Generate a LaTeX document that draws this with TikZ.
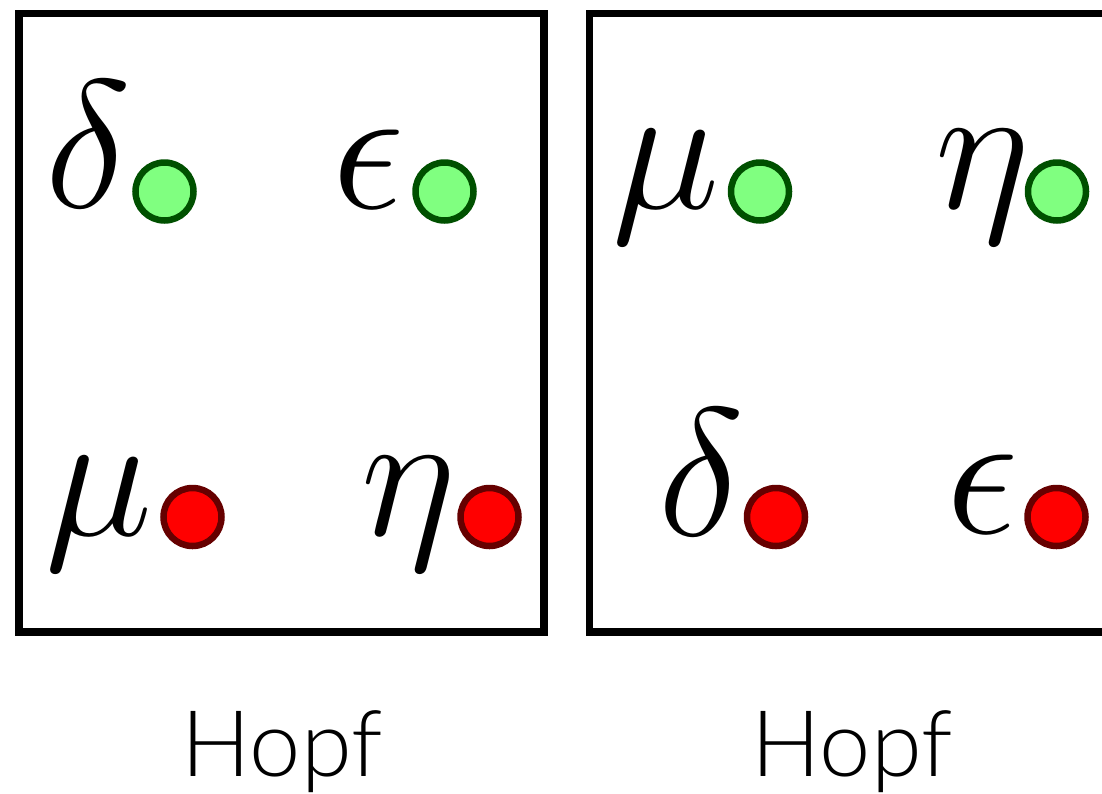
\documentclass[tikz,border=0pt]{standalone}
\usepackage{graphicx}
\usepackage{fontspec}
\newfontfamily\hopffont{Lato Light}
\definecolor{gfill}{RGB}{128,255,128}
\definecolor{gdraw}{RGB}{0,80,0}
\definecolor{rfill}{RGB}{255,0,0}
\definecolor{rdraw}{RGB}{102,0,0}
\newcommand{\bigsym}[1]{\scalebox{7.315}{\Huge$#1$}}
\begin{document}
\begin{tikzpicture}[x=1pt,y=-1pt,
  boxline/.style={draw=black,line width=7.5pt,line join=miter},
  greendot/.style={circle,draw=gdraw,fill=gfill,line width=6.5pt,minimum size=58pt,inner sep=0pt},
  reddot/.style={circle,draw=rdraw,fill=rfill,line width=6.5pt,minimum size=58pt,inner sep=0pt},
  sym/.style={anchor=base west,inner sep=0pt},
  caption/.style={anchor=base,inner sep=0pt,font=\hopffont\fontsize{92}{92}\selectfont}]
\useasboundingbox (0,0) rectangle (1102,793);
\clip (0,0) rectangle (1102,793);
\fill[white] (0,0) rectangle (1102,793);
% boxes
\draw[boxline] (19,13.5) rectangle (544,632);
\draw[boxline] (589.5,13.5) rectangle (1140,632);
% left box
\node[sym] (ld) at (45,207) {\bigsym{\delta}};
\node[greendot] (ldg) at (164.5,191.5) {};
\node[sym] (le) at (332,208) {\bigsym{\epsilon}};
\node[greendot] (leg) at (444.5,191.5) {};
\node[sym] (lm) at (45,535) {\bigsym{\mu}};
\node[reddot] (lmr) at (192.5,517) {};
\node[sym] (lh) at (361,535) {\bigsym{\eta}};
\node[reddot] (lhr) at (489.5,517) {};
% right box
\node[sym] (rm) at (612,208) {\bigsym{\mu}};
\node[greendot] (rmg) at (760,191.5) {};
\node[sym] (rh) at (935,208) {\bigsym{\eta}};
\node[greendot] (rhg) at (1057,191.5) {};
\node[sym] (rd) at (658,535) {\bigsym{\delta}};
\node[reddot] (rdr) at (776,517) {};
\node[sym] (re) at (946,533) {\bigsym{\epsilon}};
\node[reddot] (rer) at (1056.5,517) {};
% captions
\node[caption] (h1) at (282,776) {Hopf};
\node[caption] (h2) at (852,776) {Hopf};
\end{tikzpicture}
\end{document}
